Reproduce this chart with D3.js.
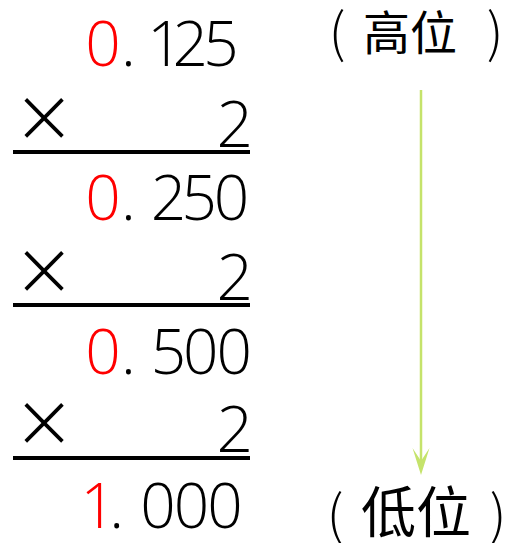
<!DOCTYPE html>
<html><head><meta charset="utf-8">
<script src="https://cdn.jsdelivr.net/npm/d3@7/dist/d3.min.js"></script>
<style>html,body{margin:0;padding:0;background:#fff;}</style>
</head><body>
<svg id="c" width="510" height="543"></svg>
<script>
const integerParts = ["0", "0", "0", "1"];
const fractionParts = ["125", "250", "500", "000"];
const multiplier = "2";
const multSign = "×";
const topLabel = ["(", "高位", ")"];
const bottomLabel = ["(", "低位", ")"];

const svg = d3.select("#c");
const numFont = "'Open Sans', 'Noto Sans', sans-serif";
const cjkFont = "'Noto Sans CJK SC', sans-serif";

const rowY = d3.scalePoint().domain(d3.range(integerParts.length)).range([66, 528]);
const multY = d3.scalePoint().domain(d3.range(integerParts.length - 1)).range([147, 452]);
const lineY = d3.scalePoint().domain(d3.range(integerParts.length - 1)).range([152, 458]);

// number rows
svg.selectAll("text.row")
  .data(integerParts.map((d, i) => ({int: d, frac: fractionParts[i], i})))
  .join("text").attr("class", "row")
  .attr("x", 85).attr("y", d => rowY(d.i))
  .attr("font-family", numFont).attr("font-weight", 300).attr("font-size", 62)
  .style("font-variant-numeric", "proportional-nums")
  .attr("fill", "#000")
  .each(function(d) {
    const t = d3.select(this);
    t.append("tspan").attr("fill", "#ff0000").text(d.int);
    t.append("tspan").text(".");
    t.append("tspan").attr("dx", 16).attr("letter-spacing", -2.5).text(d.frac);
  });

// multiplier rows
const mults = svg.selectAll("g.mult").data(d3.range(integerParts.length - 1)).join("g").attr("class", "mult");
mults.append("text")
  .attr("x", 44).attr("y", d => multY(d) - 5)
  .attr("text-anchor", "middle")
  .attr("font-family", "'DejaVu Sans', sans-serif").attr("font-weight", 200).attr("font-size", 76)
  .attr("fill", "#000").text(multSign);
mults.append("text")
  .attr("x", 253).attr("y", d => multY(d))
  .attr("text-anchor", "end")
  .attr("font-family", numFont).attr("font-weight", 300).attr("font-size", 64)
  .attr("fill", "#000").text(multiplier);
mults.append("line")
  .attr("x1", 13).attr("x2", 250)
  .attr("y1", d => lineY(d)).attr("y2", d => lineY(d))
  .attr("stroke", "#000").attr("stroke-width", 4);

// labels
function label(parts, y, size, px) {
  svg.append("text").attr("x", px[0]).attr("y", y + 2).attr("text-anchor", "middle")
    .attr("font-family", cjkFont).attr("font-weight", 300).attr("font-size", 53).text(parts[0]);
  svg.append("text").attr("x", px[1]).attr("y", y)
    .attr("font-family", cjkFont).attr("font-size", size).text(parts[1]);
  svg.append("text").attr("x", px[2]).attr("y", y + 2).attr("text-anchor", "middle")
    .attr("font-family", cjkFont).attr("font-weight", 300).attr("font-size", 53).text(parts[2]);
}
label(topLabel, 50, 47, [337, 363, 495]);
label(bottomLabel, 532, 55, [335, 361, 498]);

// arrow
const ax = 421, ay1 = 90, ay2 = 475;
svg.append("line").attr("x1", ax).attr("x2", ax).attr("y1", ay1).attr("y2", ay2 - 12)
  .attr("stroke", "#c5e36b").attr("stroke-width", 2.5);
svg.append("path")
  .attr("d", `M${ax},${ay2} L${ax - 8.5},${ay2 - 27} L${ax},${ay2 - 14} L${ax + 8.5},${ay2 - 27} Z`)
  .attr("fill", "#c5e36b");
</script>
</body></html>
